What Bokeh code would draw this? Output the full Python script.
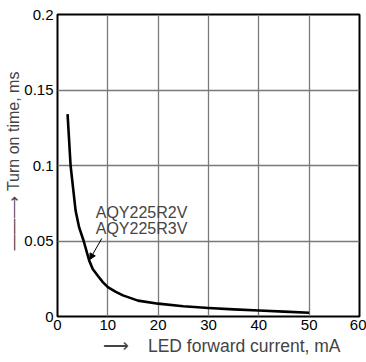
from bokeh.plotting import figure
from bokeh.models import FixedTicker, Label, Arrow, NormalHead, Range1d, Title
from bokeh.embed import file_html
from bokeh.resources import INLINE

# Data
current_ma = [2, 2.6, 3.6, 4.3, 5.2, 6.3, 7, 8, 9, 10, 11.5, 13, 16, 20, 25, 30, 35, 40, 45, 50]
turn_on_ms = [0.134, 0.1, 0.07, 0.059, 0.05, 0.037, 0.0315, 0.027, 0.0228, 0.0195, 0.0165,
              0.014, 0.0105, 0.0085, 0.0068, 0.0056, 0.0047, 0.004, 0.0032, 0.0025]
x_ticks = [0, 10, 20, 30, 40, 50, 60]
y_ticks = [0, 0.05, 0.1, 0.15, 0.2]
y_tick_labels = {0: "0", 0.05: "0.05", 0.1: "0.1", 0.15: "0.15", 0.2: "0.2"}
series_label = ["AQY225R2V", "AQY225R3V"]
x_title = "LED forward current, mA"
y_title = "Turn on time, ms"
ARROW = "\u27f6"
DASH = "\u2014"
NB = "\u00a0"

FONT = "Liberation Sans"

p = figure(width=366, height=362, output_backend="svg", toolbar_location=None,
           x_range=Range1d(0, 60), y_range=Range1d(0, 0.2),
           min_border_left=57, min_border_right=7, min_border_top=14, min_border_bottom=46)
p.background_fill_color = "white"
p.border_fill_color = "white"
p.outline_line_color = "black"
p.outline_line_width = 2

p.xaxis.ticker = FixedTicker(ticks=x_ticks)
p.yaxis.ticker = FixedTicker(ticks=y_ticks)
p.yaxis.major_label_overrides = y_tick_labels
for ax in (p.xaxis, p.yaxis):
    ax.axis_line_color = None
    ax.major_tick_line_color = None
    ax.minor_tick_line_color = None
    ax.major_tick_out = 0
    ax.major_tick_in = 0
    ax.minor_tick_out = 0
    ax.minor_tick_in = 0
    ax.major_label_text_font = FONT
    ax.major_label_text_font_size = "15px"
    ax.major_label_text_color = "black"
p.xaxis.major_label_standoff = 3
p.yaxis.major_label_standoff = 4

p.xgrid.ticker = FixedTicker(ticks=[10, 20, 30, 40, 50])
p.ygrid.ticker = FixedTicker(ticks=[0.05, 0.1, 0.15])
for g in (p.xgrid, p.ygrid):
    g.grid_line_color = "#7a7a7a"
    g.grid_line_width = 1.3

p.line(current_ma, turn_on_ms, line_color="black", line_width=2.6, line_join="round")

# series annotation
p.add_layout(Label(x=7.6, y=0.0689, text=series_label[0], text_font=FONT,
                   text_font_size="16px", text_align="left", text_baseline="middle"))
p.add_layout(Label(x=7.6, y=0.0583, text=series_label[1], text_font=FONT,
                   text_font_size="16px", text_align="left", text_baseline="middle"))
p.add_layout(Arrow(x_start=8.8, y_start=0.0517, x_end=6.4, y_end=0.0377,
                   line_color="black", line_width=1,
                   end=NormalHead(size=6, fill_color="black", line_color="black")))

# axis titles with arrows, as side-panel titles
p.add_layout(Title(text=ARROW + NB * 4 + x_title, align="left", offset=45,
                   text_font=FONT, text_font_size="17.5px", text_font_style="normal",
                   standoff=2), "below")
p.add_layout(Title(text=DASH * 2 + ARROW + NB + y_title, align="left", offset=66,
                   text_font=FONT, text_font_size="16px", text_font_style="normal",
                   standoff=0), "left")

open("out.html", "w").write(file_html(p, INLINE))
